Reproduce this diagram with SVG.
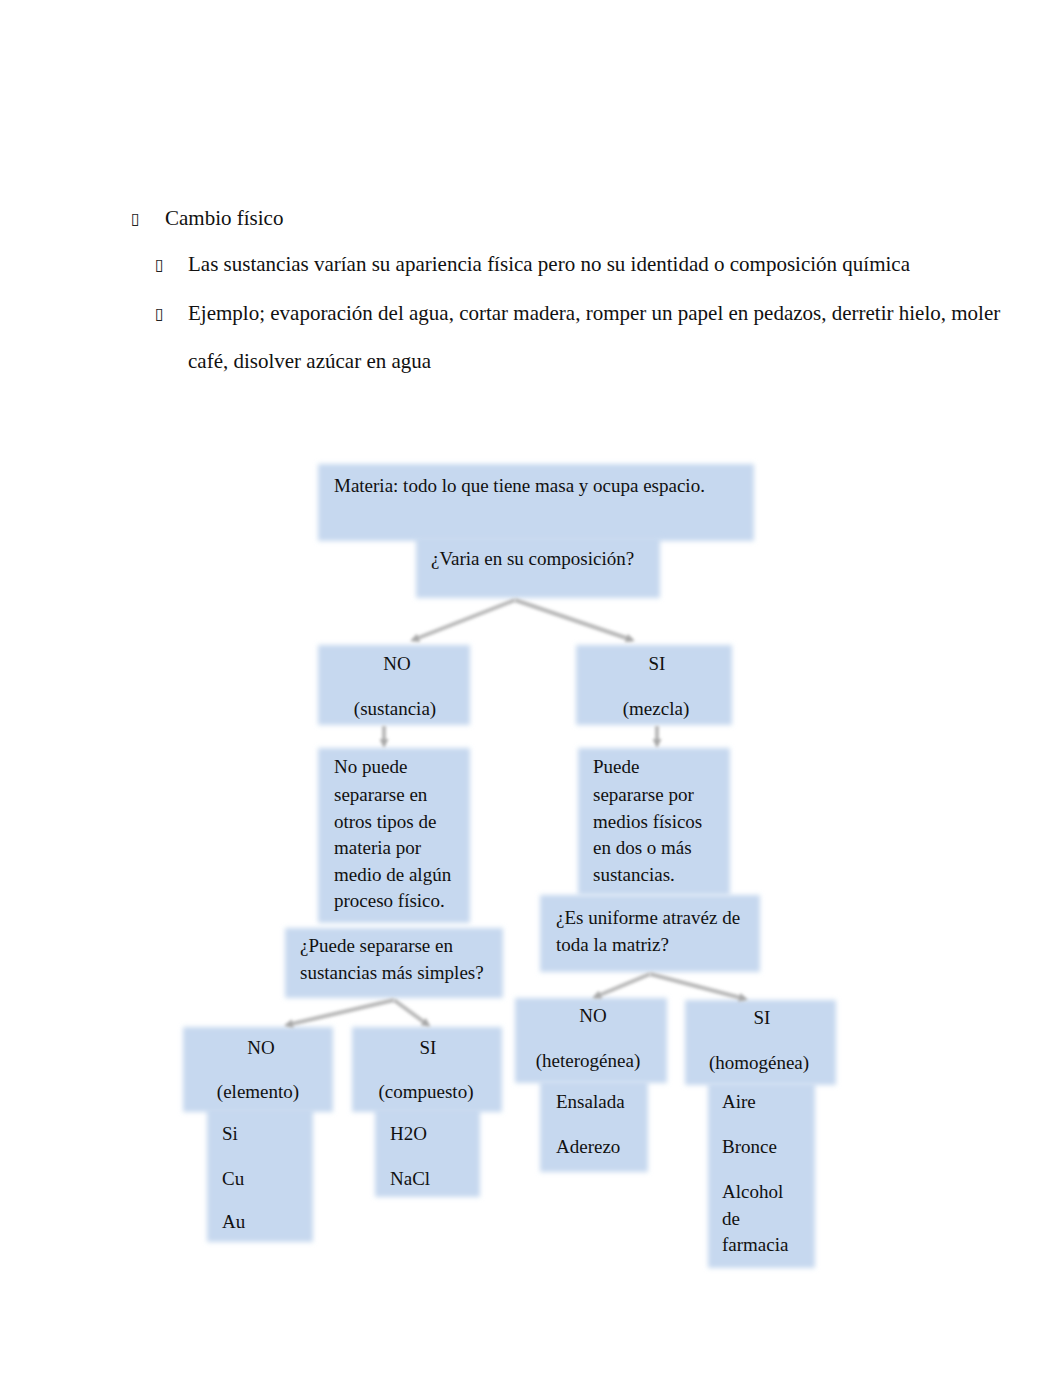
<svg xmlns="http://www.w3.org/2000/svg" width="1062" height="1377" viewBox="0 0 1062 1377">
<defs>
<filter id="soft" x="-10%" y="-10%" width="120%" height="120%">
<feGaussianBlur stdDeviation="2.4"/>
</filter>
<filter id="lineblur" filterUnits="userSpaceOnUse" x="0" y="0" width="1062" height="1377">
<feGaussianBlur stdDeviation="1.8"/>
</filter>
<marker id="arr" markerWidth="9" markerHeight="9" refX="6" refY="4.5" orient="auto" markerUnits="userSpaceOnUse">
<path d="M0,0 L9,4.5 L0,9 z" fill="#a8a8a8"/>
</marker>
<style>
.box{fill:#c6d8ef;filter:url(#soft);}
.t{font-family:"Liberation Serif","Times New Roman",serif;font-size:19px;fill:#111;}
.c{text-anchor:middle;}
.top{font-family:"Liberation Serif","Times New Roman",serif;font-size:21px;fill:#111;}
.bul{font-family:"DejaVu Sans",sans-serif;font-size:16px;fill:#222;}
.conn{stroke:#b8b8b8;stroke-width:4;fill:none;filter:url(#lineblur);}
</style>
</defs>
<rect width="1062" height="1377" fill="#ffffff"/>

<g id="text-intro">
<text class="bul" x="131" y="224">▯</text>
<text class="top" x="165" y="225">Cambio físico</text>
<text class="bul" x="155" y="270">▯</text>
<text class="top" x="188" y="271">Las sustancias varían su apariencia física pero no su identidad o composición química</text>
<text class="bul" x="155" y="319">▯</text>
<text class="top" x="188" y="320">Ejemplo; evaporación del agua, cortar madera, romper un papel en pedazos, derretir hielo, moler</text>
<text class="top" x="188" y="368">café, disolver azúcar en agua</text>
</g>

<g id="node-materia">
<rect class="box" x="318" y="464" width="436" height="77"/>
<text class="t" x="334" y="492">Materia: todo lo que tiene masa y ocupa espacio.</text>
</g>
<g id="node-varia">
<rect class="box" x="416" y="537" width="244" height="61"/>
<text class="t" x="431" y="565">¿Varia en su composición?</text>
</g>
<g id="node-no-sustancia">
<rect class="box" x="318" y="645" width="152" height="80"/>
<text class="t c" x="397" y="670">NO</text>
<text class="t c" x="395" y="715">(sustancia)</text>
</g>
<g id="node-si-mezcla">
<rect class="box" x="576" y="645" width="156" height="80"/>
<text class="t c" x="657" y="670">SI</text>
<text class="t c" x="656" y="715">(mezcla)</text>
</g>
<g id="node-no-puede">
<rect class="box" x="318" y="748" width="152" height="175"/>
<text class="t" x="334" y="773">No puede</text>
<text class="t" x="334" y="801">separarse en</text>
<text class="t" x="334" y="828">otros tipos de</text>
<text class="t" x="334" y="854">materia por</text>
<text class="t" x="334" y="881">medio de algún</text>
<text class="t" x="334" y="907">proceso físico.</text>
</g>
<g id="node-puede">
<rect class="box" x="578" y="748" width="152" height="147"/>
<text class="t" x="593" y="773">Puede</text>
<text class="t" x="593" y="801">separarse por</text>
<text class="t" x="593" y="828">medios físicos</text>
<text class="t" x="593" y="854">en dos o más</text>
<text class="t" x="593" y="881">sustancias.</text>
</g>
<g id="node-simples">
<rect class="box" x="285" y="928" width="218" height="70"/>
<text class="t" x="300" y="952">¿Puede separarse en</text>
<text class="t" x="300" y="979">sustancias más simples?</text>
</g>
<g id="node-uniforme">
<rect class="box" x="540" y="895" width="220" height="77"/>
<text class="t" x="556" y="924">¿Es uniforme atravéz de</text>
<text class="t" x="556" y="951">toda la matriz?</text>
</g>
<g id="node-elemento-list">
<rect class="box" x="207" y="1108" width="106" height="134"/>
<text class="t" x="222" y="1140">Si</text>
<text class="t" x="222" y="1185">Cu</text>
<text class="t" x="222" y="1228">Au</text>
</g>
<g id="node-no-elemento">
<rect class="box" x="183" y="1027" width="150" height="85"/>
<text class="t c" x="261" y="1054">NO</text>
<text class="t c" x="258" y="1098">(elemento)</text>
</g>
<g id="node-compuesto-list">
<rect class="box" x="375" y="1108" width="105" height="89"/>
<text class="t" x="390" y="1140">H2O</text>
<text class="t" x="390" y="1185">NaCl</text>
</g>
<g id="node-si-compuesto">
<rect class="box" x="352" y="1027" width="150" height="85"/>
<text class="t c" x="428" y="1054">SI</text>
<text class="t c" x="426" y="1098">(compuesto)</text>
</g>
<g id="node-heterogenea-list">
<rect class="box" x="540" y="1081" width="108" height="91"/>
<text class="t" x="556" y="1108">Ensalada</text>
<text class="t" x="556" y="1153">Aderezo</text>
</g>
<g id="node-no-heterogenea">
<rect class="box" x="515" y="998" width="152" height="85"/>
<text class="t c" x="593" y="1022">NO</text>
<text class="t c" x="588" y="1067">(heterogénea)</text>
</g>
<g id="node-homogenea-list">
<rect class="box" x="708" y="1083" width="107" height="185"/>
<text class="t" x="722" y="1108">Aire</text>
<text class="t" x="722" y="1153">Bronce</text>
<text class="t" x="722" y="1198">Alcohol</text>
<text class="t" x="722" y="1225">de</text>
<text class="t" x="722" y="1251">farmacia</text>
</g>
<g id="node-si-homogenea">
<rect class="box" x="685" y="1000" width="151" height="85"/>
<text class="t c" x="762" y="1024">SI</text>
<text class="t c" x="759" y="1069">(homogénea)</text>
</g>

<g id="connectors">
<line class="conn" x1="515" y1="600" x2="413" y2="640" marker-end="url(#arr)"/>
<line class="conn" x1="515" y1="600" x2="632" y2="640" marker-end="url(#arr)"/>
<line class="conn" x1="384" y1="726" x2="384" y2="745" marker-end="url(#arr)"/>
<line class="conn" x1="657" y1="726" x2="657" y2="745" marker-end="url(#arr)"/>
<line class="conn" x1="394" y1="1000" x2="287" y2="1025" marker-end="url(#arr)"/>
<line class="conn" x1="394" y1="1000" x2="428" y2="1025" marker-end="url(#arr)"/>
<line class="conn" x1="650" y1="974" x2="595" y2="997" marker-end="url(#arr)"/>
<line class="conn" x1="650" y1="974" x2="745" y2="999" marker-end="url(#arr)"/>
</g>
</svg>
